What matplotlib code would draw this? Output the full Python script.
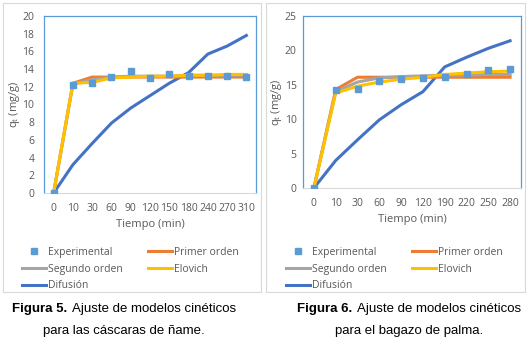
import matplotlib.pyplot as plt
from matplotlib.patches import Rectangle
from matplotlib.lines import Line2D

plt.rcParams['font.family'] = ['Open Sans', 'DejaVu Sans']

W, H = 528, 344

# Figura 5 - cáscaras de ñame
t5 = ['0', '10', '30', '60', '90', '120', '150', '180', '240', '270', '310']
exp5 = [0, 12.2, 12.4, 13.1, 13.8, 13.0, 13.5, 13.2, 13.2, 13.2, 13.1]
po5 = [0, 12.4, 13.1, 13.1, 13.1, 13.1, 13.1, 13.1, 13.1, 13.1, 13.1]
so5 = [0, 12.3, 12.8, 13.1, 13.2, 13.2, 13.2, 13.3, 13.3, 13.3, 13.3]
elo5 = [0, 12.4, 12.5, 13.0, 13.1, 13.2, 13.2, 13.3, 13.3, 13.4, 13.4]
dif5 = [0, 3.2, 5.6, 7.9, 9.6, 11.0, 12.4, 13.6, 15.7, 16.6, 17.8]

# Figura 6 - bagazo de palma
t6 = ['0', '10', '30', '60', '90', '120', '190', '220', '250', '280']
exp6 = [0, 14.2, 14.4, 15.6, 15.9, 16.0, 16.2, 16.6, 17.1, 17.3]
po6 = [0, 14.3, 16.1, 16.1, 16.1, 16.1, 16.1, 16.1, 16.1, 16.1]
so6 = [0, 14.0, 15.4, 16.0, 16.2, 16.3, 16.4, 16.4, 16.5, 16.5]
elo6 = [0, 13.8, 14.8, 15.4, 15.8, 16.1, 16.5, 16.7, 16.9, 17.0]
dif6 = [0, 4.0, 7.0, 9.9, 12.1, 14.0, 17.6, 19.0, 20.3, 21.4]

C_EXP = '#5B9BD5'
C_PO = '#ED7D31'
C_SO = '#A5A5A5'
C_ELO = '#FFC000'
C_DIF = '#4472C4'
TXT = '#595959'


def px_rect(x0, y0, x1, y1):
    return [x0 / W, 1 - y1 / H, (x1 - x0) / W, (y1 - y0) / H]


fig = plt.figure(figsize=(W / 100, H / 100), dpi=100)

# marcos grises de cada gráfico
for bx in [(3, 3, 261, 292), (266, 3, 525, 292)]:
    fig.patches.append(Rectangle((bx[0] / W, 1 - bx[3] / H), (bx[2] - bx[0]) / W,
                                 (bx[3] - bx[1]) / H, transform=fig.transFigure,
                                 fill=False, edgecolor='#D9D9D9', lw=0.8))


def panel(rect, t, exp, po, so, elo, dif, ymax, ystep, ylab_x, leg_x, ypad, xpad):
    ax = fig.add_axes(px_rect(*rect))
    x = list(range(len(t)))
    lw = 2.2
    ax.plot(x, dif, color=C_DIF, lw=lw, zorder=2)
    ax.plot(x, po, color=C_PO, lw=lw, zorder=3)
    ax.plot(x, so, color=C_SO, lw=lw, zorder=4)
    ax.plot(x, elo, color=C_ELO, lw=lw, zorder=5)
    ax.plot(x, exp, ls='none', marker='s', ms=4.5, color=C_EXP, zorder=6)
    ax.set_xlim(-0.5, len(t) - 0.5)
    ax.set_ylim(0, ymax)
    ax.set_yticks(range(0, ymax + 1, ystep))
    ax.set_xticks(x)
    ax.set_xticklabels(t)
    ax.tick_params(length=0, labelsize=7.5, colors=TXT)
    ax.tick_params(axis='y', pad=ypad)
    ax.tick_params(axis='x', pad=xpad)
    for s in ['left', 'top', 'right']:
        ax.spines[s].set_color(C_EXP)
        ax.spines[s].set_linewidth(0.9)
    ax.spines['bottom'].set_color('#D9D9D9')
    ax.set_xlabel('Tiempo (min)', fontsize=8, color=TXT, labelpad=4)
    fig.text(ylab_x / W, 1 - (rect[1] + rect[3]) / 2 / H, 'q$_\\mathregular{t}$ (mg/g)',
             rotation=90, fontsize=8, color=TXT, ha='center', va='center')

    handles = [
        Line2D([], [], ls='none', marker='s', ms=4.5, color=C_EXP),
        Line2D([], [], color=C_SO, lw=2.2),
        Line2D([], [], color=C_DIF, lw=2.2),
        Line2D([], [], color=C_PO, lw=2.2),
        Line2D([], [], color=C_ELO, lw=2.2),
    ]
    labels = ['Experimental', 'Segundo orden', 'Difusión', 'Primer orden', 'Elovich']
    leg = fig.legend(handles, labels, ncol=2, loc='upper left',
                     bbox_to_anchor=(leg_x / W, 1 - 247 / H), frameon=False,
                     fontsize=7.5, handlelength=2.3, handletextpad=0.15,
                     columnspacing=2.5, labelspacing=0.55, borderaxespad=0,
                     borderpad=0)
    for tx in leg.get_texts():
        tx.set_color(TXT)
    return ax


panel((44, 16, 256, 193), t5, exp5, po5, so5, elo5, dif5, 20, 2, 15, 22, 7, 7)
panel((303, 16, 521, 188), t6, exp6, po6, so6, elo6, dif6, 25, 5, 276, 286, 4.5, 7)

# pies de figura
cap = dict(fontsize=9.5, family=['Liberation Sans', 'DejaVu Sans'], color='black',
           va='center')
renderer = fig.canvas.get_renderer()


def caption(xc, y, bold, rest, line2):
    t1 = fig.text(0, 1 - y / H, bold, weight='bold', **cap)
    t2 = fig.text(0, 1 - y / H, rest, **cap)
    w1 = t1.get_window_extent(renderer).width
    w2 = t2.get_window_extent(renderer).width
    gap = 4
    x0 = xc - (w1 + gap + w2) / 2
    t1.set_x(x0 / W)
    t2.set_x((x0 + w1 + gap) / W)
    fig.text(xc / W, 1 - (y + 22) / H, line2, ha='center', **cap)


caption(124, 309, 'Figura 5.', 'Ajuste de modelos cinéticos', 'para las cáscaras de ñame.')
caption(409, 309, 'Figura 6.', 'Ajuste de modelos cinéticos', 'para el bagazo de palma.')

fig.savefig('out.png', dpi=100)
